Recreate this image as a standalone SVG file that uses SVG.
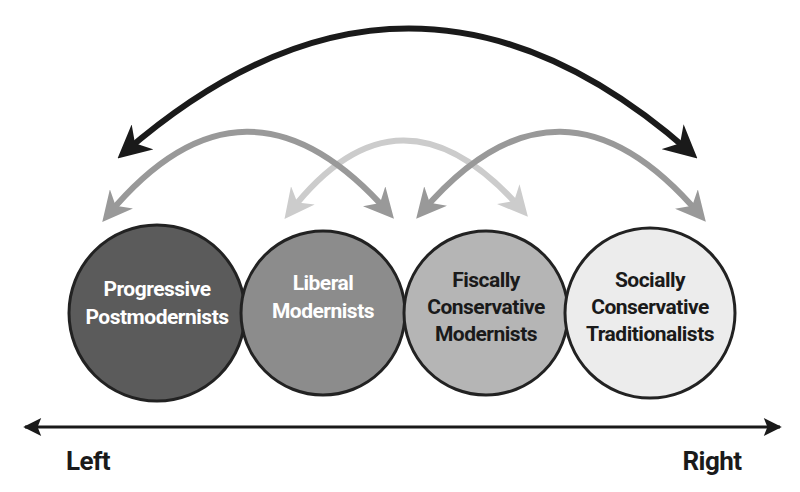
<svg xmlns="http://www.w3.org/2000/svg" width="800" height="492" viewBox="0 0 800 492">
<style>
.c{stroke:#222;stroke-width:3}
.t{font-family:Roboto,"Liberation Sans",sans-serif;font-weight:bold;font-size:21px;text-anchor:middle;letter-spacing:-0.5px}
.w{fill:#fff}.k{fill:#1a1a1a}
.a{fill:none;stroke-width:6;stroke-linecap:round}
</style>
<defs>
<marker id="mb" viewBox="0 0 10 10" refX="7" refY="5" markerWidth="5.5" markerHeight="5.5" orient="auto-start-reverse"><path d="M0,0L10,5L0,10L3,5z" fill="#1a1a1a"/></marker>
<marker id="mg" viewBox="0 0 10 10" refX="7" refY="5" markerWidth="5" markerHeight="5" orient="auto-start-reverse"><path d="M0,0L10,5L0,10L3,5z" fill="#999"/></marker>
<marker id="ml" viewBox="0 0 10 10" refX="7" refY="5" markerWidth="5" markerHeight="5" orient="auto-start-reverse"><path d="M0,0L10,5L0,10L3,5z" fill="#ccc"/></marker>
<marker id="ax" viewBox="0 0 10 10" refX="9" refY="5" markerWidth="8" markerHeight="6" orient="auto-start-reverse"><path d="M0,0L10,5L0,10L2,5z" fill="#1a1a1a"/></marker>
</defs>
<g id="connectors">
<path class="a" d="M290,212 Q400,70 522,210" stroke="#ccc" marker-start="url(#ml)" marker-end="url(#ml)"/>
<path class="a" d="M108,215 Q245,50 388,212" stroke="#999" marker-start="url(#mg)" marker-end="url(#mg)"/>
<path class="a" d="M422,212 Q560,50 700,215" stroke="#999" marker-start="url(#mg)" marker-end="url(#mg)"/>
<path class="a" d="M125,152 Q410,-95 690,152" stroke="#1a1a1a" marker-start="url(#mb)" marker-end="url(#mb)"/>
<line x1="25" y1="427" x2="780" y2="427" stroke="#1a1a1a" stroke-width="3" marker-start="url(#ax)" marker-end="url(#ax)"/>
</g>
<g id="n1"><circle class="c" cx="157" cy="313" r="88" fill="#5b5b5b"/><text class="t w" x="157" y="296">Progressive</text><text class="t w" x="157" y="324">Postmodernists</text></g>
<g id="n2"><circle class="c" cx="323" cy="313" r="82" fill="#8c8c8c"/><text class="t w" x="323" y="290">Liberal</text><text class="t w" x="323" y="318">Modernists</text></g>
<g id="n3"><circle class="c" cx="486" cy="313" r="82" fill="#b5b5b5"/><text class="t k" x="486" y="287">Fiscally</text><text class="t k" x="486" y="314">Conservative</text><text class="t k" x="486" y="341">Modernists</text></g>
<g id="n4"><circle class="c" cx="650" cy="313" r="85" fill="#ececec"/><text class="t k" x="650" y="287">Socially</text><text class="t k" x="650" y="314">Conservative</text><text class="t k" x="650" y="341">Traditionalists</text></g>
<text class="t k" x="88" y="470" style="font-size:26px">Left</text>
<text class="t k" x="712" y="470" style="font-size:26px">Right</text>
</svg>
